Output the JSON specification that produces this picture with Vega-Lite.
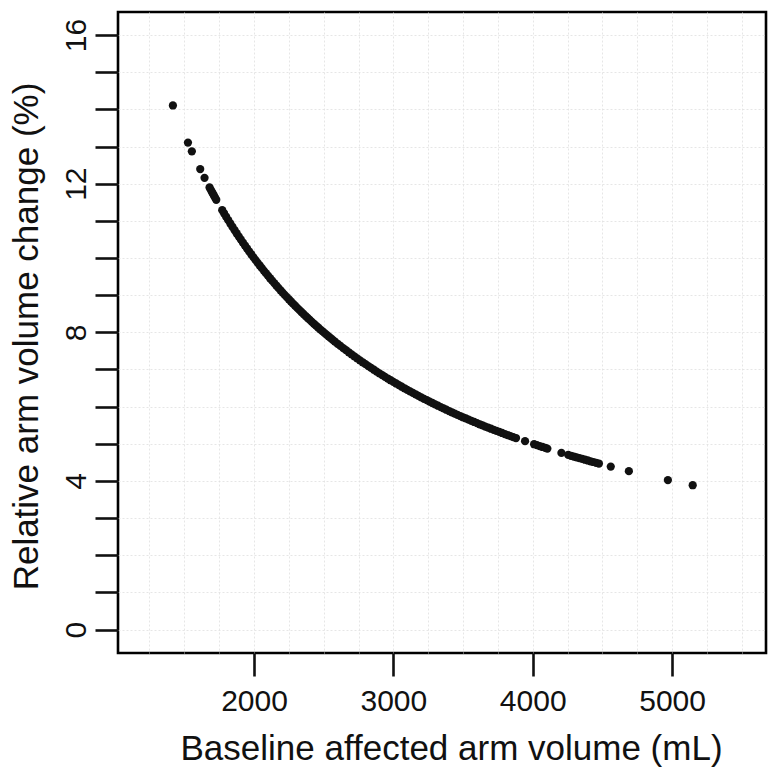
{
  "$schema": "https://vega.github.io/schema/vega-lite/v6.json",
  "width": 648,
  "height": 641,
  "autosize": "none",
  "padding": {"left": 118, "top": 12, "right": 13, "bottom": 124},
  "background": "white",
  "config": {
    "view": {"stroke": "black", "strokeWidth": 2.6},
    "font": "Liberation Sans"
  },
  "data": {
    "values": [
      {"volume": 1418, "change": 14.104},
      {"volume": 1526, "change": 13.106},
      {"volume": 1554, "change": 12.870},
      {"volume": 1614, "change": 12.392},
      {"volume": 1645, "change": 12.158},
      {"volume": 1681, "change": 11.898},
      {"volume": 1690, "change": 11.834},
      {"volume": 1698, "change": 11.779},
      {"volume": 1705, "change": 11.730},
      {"volume": 1712, "change": 11.682},
      {"volume": 1720, "change": 11.628},
      {"volume": 1729, "change": 11.567},
      {"volume": 1772, "change": 11.287},
      {"volume": 1785, "change": 11.204},
      {"volume": 1800, "change": 11.111},
      {"volume": 1815, "change": 11.019},
      {"volume": 1830, "change": 10.929},
      {"volume": 1845, "change": 10.840},
      {"volume": 1860, "change": 10.753},
      {"volume": 1875, "change": 10.667},
      {"volume": 1890, "change": 10.582},
      {"volume": 1905, "change": 10.499},
      {"volume": 1920, "change": 10.417},
      {"volume": 1935, "change": 10.336},
      {"volume": 1950, "change": 10.256},
      {"volume": 1965, "change": 10.178},
      {"volume": 1980, "change": 10.101},
      {"volume": 1995, "change": 10.025},
      {"volume": 2010, "change": 9.950},
      {"volume": 2025, "change": 9.877},
      {"volume": 2040, "change": 9.804},
      {"volume": 2055, "change": 9.732},
      {"volume": 2070, "change": 9.662},
      {"volume": 2085, "change": 9.592},
      {"volume": 2100, "change": 9.524},
      {"volume": 2115, "change": 9.456},
      {"volume": 2130, "change": 9.390},
      {"volume": 2145, "change": 9.324},
      {"volume": 2160, "change": 9.259},
      {"volume": 2175, "change": 9.195},
      {"volume": 2190, "change": 9.132},
      {"volume": 2205, "change": 9.070},
      {"volume": 2220, "change": 9.009},
      {"volume": 2235, "change": 8.949},
      {"volume": 2250, "change": 8.889},
      {"volume": 2265, "change": 8.830},
      {"volume": 2280, "change": 8.772},
      {"volume": 2295, "change": 8.715},
      {"volume": 2310, "change": 8.658},
      {"volume": 2325, "change": 8.602},
      {"volume": 2340, "change": 8.547},
      {"volume": 2355, "change": 8.493},
      {"volume": 2370, "change": 8.439},
      {"volume": 2385, "change": 8.386},
      {"volume": 2400, "change": 8.333},
      {"volume": 2415, "change": 8.282},
      {"volume": 2430, "change": 8.230},
      {"volume": 2445, "change": 8.180},
      {"volume": 2460, "change": 8.130},
      {"volume": 2475, "change": 8.081},
      {"volume": 2490, "change": 8.032},
      {"volume": 2505, "change": 7.984},
      {"volume": 2520, "change": 7.937},
      {"volume": 2535, "change": 7.890},
      {"volume": 2550, "change": 7.843},
      {"volume": 2565, "change": 7.797},
      {"volume": 2580, "change": 7.752},
      {"volume": 2600, "change": 7.692},
      {"volume": 2620, "change": 7.634},
      {"volume": 2640, "change": 7.576},
      {"volume": 2660, "change": 7.519},
      {"volume": 2680, "change": 7.463},
      {"volume": 2700, "change": 7.407},
      {"volume": 2720, "change": 7.353},
      {"volume": 2740, "change": 7.299},
      {"volume": 2760, "change": 7.246},
      {"volume": 2780, "change": 7.194},
      {"volume": 2800, "change": 7.143},
      {"volume": 2820, "change": 7.092},
      {"volume": 2840, "change": 7.042},
      {"volume": 2860, "change": 6.993},
      {"volume": 2880, "change": 6.944},
      {"volume": 2900, "change": 6.897},
      {"volume": 2920, "change": 6.849},
      {"volume": 2940, "change": 6.803},
      {"volume": 2960, "change": 6.757},
      {"volume": 2980, "change": 6.711},
      {"volume": 3000, "change": 6.667},
      {"volume": 3020, "change": 6.623},
      {"volume": 3040, "change": 6.579},
      {"volume": 3060, "change": 6.536},
      {"volume": 3080, "change": 6.494},
      {"volume": 3100, "change": 6.452},
      {"volume": 3120, "change": 6.410},
      {"volume": 3140, "change": 6.369},
      {"volume": 3160, "change": 6.329},
      {"volume": 3180, "change": 6.289},
      {"volume": 3200, "change": 6.250},
      {"volume": 3220, "change": 6.211},
      {"volume": 3240, "change": 6.173},
      {"volume": 3260, "change": 6.135},
      {"volume": 3280, "change": 6.098},
      {"volume": 3300, "change": 6.061},
      {"volume": 3320, "change": 6.024},
      {"volume": 3340, "change": 5.988},
      {"volume": 3360, "change": 5.952},
      {"volume": 3380, "change": 5.917},
      {"volume": 3400, "change": 5.882},
      {"volume": 3420, "change": 5.848},
      {"volume": 3440, "change": 5.814},
      {"volume": 3460, "change": 5.780},
      {"volume": 3480, "change": 5.747},
      {"volume": 3500, "change": 5.714},
      {"volume": 3520, "change": 5.682},
      {"volume": 3540, "change": 5.650},
      {"volume": 3560, "change": 5.618},
      {"volume": 3580, "change": 5.587},
      {"volume": 3600, "change": 5.556},
      {"volume": 3620, "change": 5.525},
      {"volume": 3640, "change": 5.495},
      {"volume": 3660, "change": 5.464},
      {"volume": 3680, "change": 5.435},
      {"volume": 3700, "change": 5.405},
      {"volume": 3720, "change": 5.376},
      {"volume": 3740, "change": 5.348},
      {"volume": 3760, "change": 5.319},
      {"volume": 3780, "change": 5.291},
      {"volume": 3800, "change": 5.263},
      {"volume": 3820, "change": 5.236},
      {"volume": 3840, "change": 5.208},
      {"volume": 3860, "change": 5.181},
      {"volume": 3880, "change": 5.155},
      {"volume": 3945, "change": 5.070},
      {"volume": 4010, "change": 4.988},
      {"volume": 4030, "change": 4.963},
      {"volume": 4050, "change": 4.938},
      {"volume": 4070, "change": 4.914},
      {"volume": 4090, "change": 4.890},
      {"volume": 4105, "change": 4.872},
      {"volume": 4206, "change": 4.755},
      {"volume": 4255, "change": 4.700},
      {"volume": 4275, "change": 4.678},
      {"volume": 4295, "change": 4.657},
      {"volume": 4315, "change": 4.635},
      {"volume": 4335, "change": 4.614},
      {"volume": 4355, "change": 4.592},
      {"volume": 4375, "change": 4.571},
      {"volume": 4395, "change": 4.551},
      {"volume": 4415, "change": 4.530},
      {"volume": 4435, "change": 4.510},
      {"volume": 4455, "change": 4.489},
      {"volume": 4475, "change": 4.469},
      {"volume": 4560, "change": 4.386},
      {"volume": 4690, "change": 4.264},
      {"volume": 4970, "change": 4.024},
      {"volume": 5148, "change": 3.885}
    ]
  },
  "mark": {"type": "point", "filled": true, "size": 68, "color": "#111111", "opacity": 1, "strokeWidth": 0},
  "encoding": {
    "x": {
      "field": "volume",
      "type": "quantitative",
      "scale": {"domain": [1024, 5674], "nice": false, "zero": false},
      "axis": {
        "title": "Baseline affected arm volume (mL)",
        "values": [1250, 1500, 1750, 2000, 2250, 2500, 2750, 3000, 3250, 3500, 3750, 4000, 4250, 4500, 4750, 5000, 5250, 5500],
        "format": "d",
        "labelExpr": "datum.value % 1000 === 0 ? datum.label : ''",
        "labelOverlap": false,
        "labelFlush": false,
        "labelFont": "Liberation Sans",
        "labelFontSize": 30,
        "labelColor": "#111111",
        "labelBaseline": "alphabetic",
        "labelPadding": 34,
        "domain": false,
        "ticks": true,
        "tickSize": 23,
        "tickWidth": 2.6,
        "tickColor": "#111111",
        "tickOpacity": {"condition": {"test": "datum.value % 1000 === 0", "value": 1}, "value": 0},
        "grid": true,
        "gridColor": "#e0e0e0",
        "gridDash": [2, 2],
        "gridWidth": 0.8,
        "titleFont": "Liberation Sans",
        "titleFontSize": 35,
        "titleFontWeight": "normal",
        "titleColor": "#111111",
        "titleBaseline": "alphabetic",
        "titleAlign": "center",
        "titleX": 333,
        "titleY": 106
      }
    },
    "y": {
      "field": "change",
      "type": "quantitative",
      "scale": {"domain": [-0.63, 16.62], "nice": false, "zero": false},
      "axis": {
        "title": "Relative arm volume change (%)",
        "values": [0, 1, 2, 3, 4, 5, 6, 7, 8, 9, 10, 11, 12, 13, 14, 15, 16],
        "labelExpr": "datum.value % 4 === 0 ? datum.label : ''",
        "labelOverlap": false,
        "labelFlush": false,
        "labelAngle": -90,
        "labelAlign": "center",
        "labelBaseline": "alphabetic",
        "labelPadding": 10,
        "labelFont": "Liberation Sans",
        "labelFontSize": 30,
        "labelColor": "#111111",
        "domain": false,
        "tickSize": 23,
        "tickWidth": 2.6,
        "tickColor": "#111111",
        "grid": true,
        "gridColor": "#e0e0e0",
        "gridDash": [2, 2],
        "gridWidth": 0.8,
        "titleFont": "Liberation Sans",
        "titleFontSize": 35,
        "titleFontWeight": "normal",
        "titleColor": "#111111",
        "titleAngle": -90,
        "titleAlign": "center",
        "titleBaseline": "alphabetic",
        "titleX": -81,
        "titleY": 324
      }
    }
  }
}
